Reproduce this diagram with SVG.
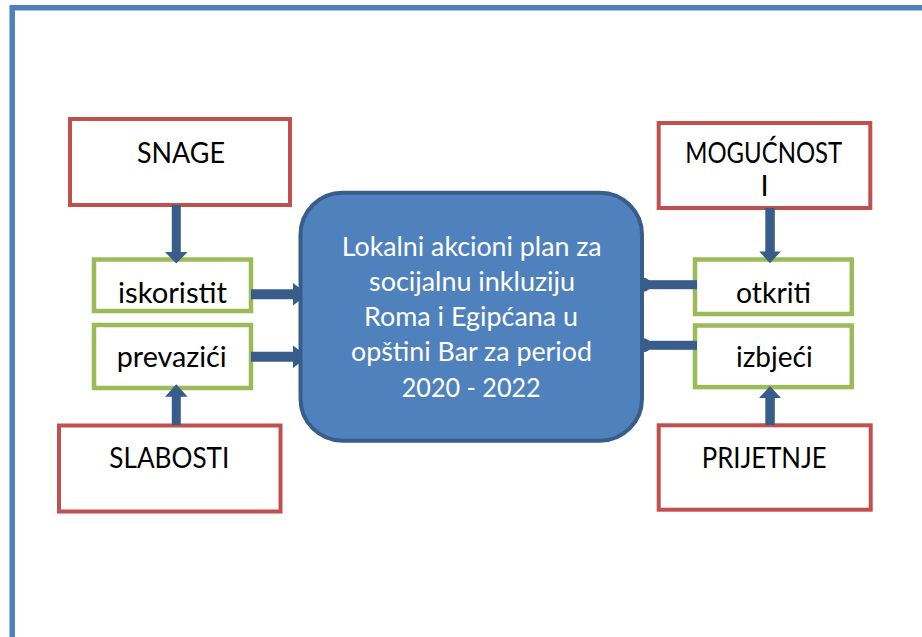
<svg xmlns="http://www.w3.org/2000/svg" width="922" height="637" viewBox="0 0 922 637">
<style>
.frame{fill:none;stroke:#4f81bd;stroke-width:5.5}
.red{fill:#fff;stroke:#c0504d;stroke-width:4}
.green{fill:#fff;stroke:#9bbb59;stroke-width:4.5}
.center{fill:#4f81bd;stroke:#385d8a;stroke-width:4}
.arr{fill:#385d8a;stroke:none}
.t{font-family:Lato,"Open Sans","Liberation Sans",sans-serif;font-size:29px;fill:#000;text-anchor:middle}
.w{font-family:Lato,"Open Sans","Liberation Sans",sans-serif;font-size:27.5px;fill:#fff;text-anchor:middle}
</style>
<rect width="922" height="637" fill="#fff"/>
<path class="frame" d="M12.2 637 V7.8 H922"/>

<g id="snage"><rect class="red" x="70" y="119" width="220" height="86"/><text class="t" x="181" y="163" textLength="88" lengthAdjust="spacingAndGlyphs">SNAGE</text></g>
<g id="slabosti"><rect class="red" x="59" y="425.5" width="221.5" height="86"/><text class="t" x="169.3" y="468.3" textLength="120" lengthAdjust="spacingAndGlyphs">SLABOSTI</text></g>
<g id="mogucnosti"><rect class="red" x="658.7" y="123" width="211.6" height="85"/><text class="t" x="763.7" y="163.3" textLength="157" lengthAdjust="spacingAndGlyphs">MOGUĆNOST</text><text class="t" x="764.5" y="196">I</text></g>
<g id="prijetnje"><rect class="red" x="658.7" y="425.3" width="212" height="84.4"/><text class="t" x="764.2" y="468.3" textLength="125" lengthAdjust="spacingAndGlyphs">PRIJETNJE</text></g>

<g id="iskoristit"><rect class="green" x="94" y="259.5" width="157" height="51.5"/><text class="t" x="172.5" y="303.3" textLength="109" lengthAdjust="spacingAndGlyphs">iskoristit</text></g>
<g id="prevazici"><rect class="green" x="94" y="325" width="157" height="63"/><text class="t" x="171.7" y="367.3" textLength="110" lengthAdjust="spacingAndGlyphs">prevazići</text></g>
<g id="otkriti"><rect class="green" x="695" y="259.5" width="156.8" height="54.5"/><text class="t" x="773.5" y="302.7" textLength="75" lengthAdjust="spacingAndGlyphs">otkriti</text></g>
<g id="izbjeci"><rect class="green" x="695" y="325.5" width="156.8" height="61.6"/><text class="t" x="774.3" y="367.3" textLength="76.7" lengthAdjust="spacingAndGlyphs">izbjeći</text></g>

<g id="connectors">
<polygon class="arr" points="171.8,205 180.8,205 180.8,252 187.6,252 176.3,263.5 165,252 171.8,252"/>
<polygon class="arr" points="171.8,425 180.8,425 180.8,396.7 187.6,396.7 176.3,384.3 165,396.7 171.8,396.7"/>
<polygon class="arr" points="765.3,208 774.8,208 774.8,251.5 780.7,251.5 770,263.3 759.3,251.5 765.3,251.5"/>
<polygon class="arr" points="765.3,425 774.8,425 774.8,398 781,398 770,386 759,398 765.3,398"/>
<polygon class="arr" points="251,289.3 293,289.3 293,283 308,294.3 293,305.5 293,299.3 251,299.3"/>
<polygon class="arr" points="251,351.7 293,351.7 293,345.5 308,356.7 293,368 293,361.7 251,361.7"/>
<rect class="arr" x="643" y="280.2" width="54" height="9"/>
<circle class="arr" cx="643.5" cy="284.7" r="7"/>
<rect class="arr" x="643" y="340.8" width="54" height="9"/>
<circle class="arr" cx="643.5" cy="345.3" r="7"/>
</g>

<g id="plan"><rect class="center" x="300.5" y="192.7" width="341.5" height="248" rx="42" ry="42"/>
<text class="w" x="471.7" y="256" textLength="260" lengthAdjust="spacingAndGlyphs">Lokalni akcioni plan za</text>
<text class="w" x="472" y="291" textLength="206" lengthAdjust="spacingAndGlyphs">socijalnu inkluziju</text>
<text class="w" x="471" y="325.5" textLength="214" lengthAdjust="spacingAndGlyphs">Roma i Egipćana u</text>
<text class="w" x="471.5" y="361.3" textLength="241" lengthAdjust="spacingAndGlyphs">opštini Bar za period</text>
<text class="w" x="471.2" y="396.7" textLength="139" lengthAdjust="spacingAndGlyphs">2020 - 2022</text>
</g>
</svg>
